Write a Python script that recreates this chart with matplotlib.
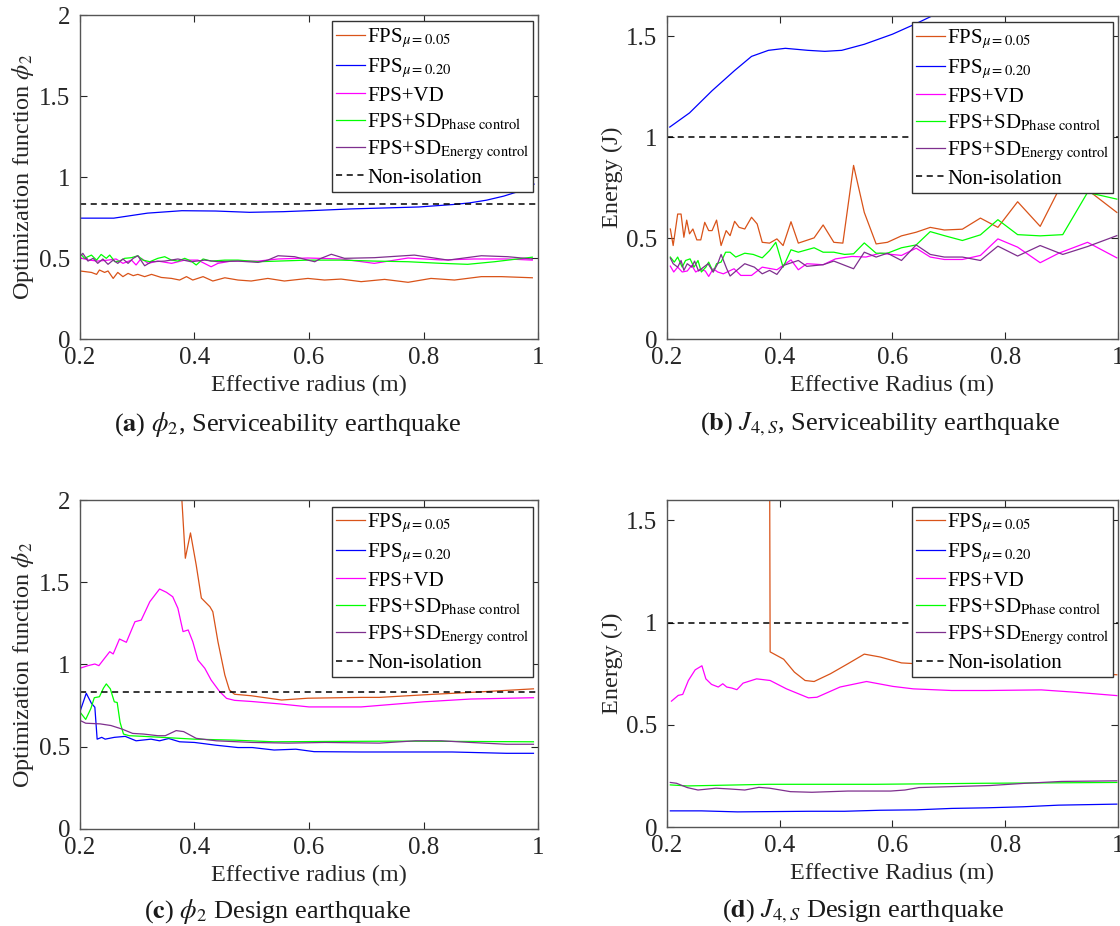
import matplotlib
matplotlib.use('Agg')
import matplotlib.pyplot as plt
from matplotlib.ticker import FuncFormatter

plt.rcParams['font.family'] = ['Liberation Serif', 'DejaVu Serif']
plt.rcParams['mathtext.fontset'] = 'stix'

# ---- (a) phi_2, serviceability earthquake ----
a_r_fps005 = [0.200, 0.220, 0.229, 0.234, 0.243, 0.249, 0.258, 0.266, 0.275, 0.284, 0.293, 0.301,
              0.313, 0.325, 0.342, 0.360, 0.374, 0.386, 0.397, 0.415, 0.432, 0.453, 0.476, 0.499,
              0.528, 0.557, 0.598, 0.627, 0.656, 0.691, 0.732, 0.773, 0.813, 0.854, 0.901, 0.936, 0.990]
a_fps005 = [0.420, 0.411, 0.399, 0.426, 0.411, 0.420, 0.374, 0.411, 0.385, 0.405, 0.391, 0.399,
            0.385, 0.399, 0.380, 0.374, 0.364, 0.385, 0.364, 0.385, 0.358, 0.378, 0.364, 0.358,
            0.374, 0.358, 0.374, 0.364, 0.370, 0.354, 0.368, 0.350, 0.374, 0.364, 0.385, 0.385, 0.378]
a_r_fps020 = [0.200, 0.259, 0.318, 0.378, 0.437, 0.496, 0.555, 0.614, 0.673, 0.733, 0.792,
              0.851, 0.880, 0.910, 0.940, 0.969, 0.993]
a_fps020 = [0.746, 0.746, 0.777, 0.792, 0.790, 0.782, 0.786, 0.794, 0.803, 0.809, 0.815,
            0.830, 0.840, 0.857, 0.882, 0.914, 0.956]
a_r_vd = [0.200, 0.214, 0.231, 0.249, 0.263, 0.275, 0.290, 0.298, 0.307, 0.319, 0.336, 0.360,
          0.383, 0.406, 0.429, 0.441, 0.464, 0.511, 0.546, 0.598, 0.656, 0.714, 0.773, 0.831,
          0.889, 0.947, 0.990]
a_vd = [0.502, 0.488, 0.481, 0.487, 0.494, 0.467, 0.487, 0.457, 0.498, 0.467, 0.481, 0.467,
        0.487, 0.487, 0.446, 0.467, 0.481, 0.481, 0.494, 0.500, 0.494, 0.467, 0.500, 0.488,
        0.494, 0.494, 0.487]
a_r_phase = [0.200, 0.208, 0.220, 0.229, 0.237, 0.246, 0.252, 0.261, 0.269, 0.278, 0.290, 0.301,
             0.310, 0.322, 0.336, 0.348, 0.360, 0.371, 0.383, 0.394, 0.403, 0.415, 0.429, 0.453,
             0.476, 0.511, 0.546, 0.598, 0.656, 0.714, 0.773, 0.831, 0.877, 0.924, 0.990]
a_phase = [0.530, 0.498, 0.518, 0.487, 0.522, 0.498, 0.518, 0.477, 0.481, 0.498, 0.502, 0.514,
           0.487, 0.477, 0.498, 0.508, 0.487, 0.481, 0.498, 0.481, 0.457, 0.494, 0.481, 0.487,
           0.487, 0.477, 0.481, 0.487, 0.487, 0.481, 0.477, 0.467, 0.461, 0.477, 0.505]
a_r_energy = [0.200, 0.205, 0.214, 0.223, 0.231, 0.240, 0.249, 0.258, 0.266, 0.275, 0.284, 0.293,
              0.301, 0.313, 0.325, 0.348, 0.371, 0.394, 0.418, 0.441, 0.476, 0.511, 0.528, 0.546,
              0.575, 0.598, 0.610, 0.621, 0.639, 0.662, 0.714, 0.784, 0.843, 0.901, 0.947, 0.990]
a_energy = [0.508, 0.529, 0.481, 0.498, 0.467, 0.494, 0.461, 0.487, 0.467, 0.494, 0.467, 0.498,
            0.514, 0.452, 0.477, 0.481, 0.494, 0.477, 0.487, 0.477, 0.481, 0.473, 0.487, 0.514,
            0.508, 0.487, 0.477, 0.498, 0.523, 0.498, 0.502, 0.518, 0.487, 0.514, 0.508, 0.494]
a_noniso = 0.833

# ---- (b) J_4,S, serviceability earthquake ----
b_r_fps005 = [0.206, 0.211, 0.219, 0.225, 0.230, 0.235, 0.240, 0.246, 0.253, 0.260, 0.267, 0.274,
              0.280, 0.288, 0.296, 0.305, 0.312, 0.320, 0.328, 0.338, 0.350, 0.360, 0.369, 0.382,
              0.395, 0.406, 0.420, 0.433, 0.461, 0.477, 0.496, 0.512, 0.531, 0.550, 0.571, 0.591,
              0.616, 0.642, 0.667, 0.692, 0.724, 0.756, 0.787, 0.822, 0.862, 0.892, 0.940, 0.952, 0.998]
b_fps005 = [0.545, 0.463, 0.619, 0.619, 0.504, 0.589, 0.521, 0.545, 0.491, 0.491, 0.578, 0.537,
            0.537, 0.589, 0.463, 0.537, 0.512, 0.583, 0.553, 0.545, 0.603, 0.570, 0.479, 0.475,
            0.496, 0.463, 0.581, 0.475, 0.501, 0.565, 0.479, 0.475, 0.860, 0.627, 0.471, 0.479,
            0.511, 0.529, 0.553, 0.540, 0.544, 0.599, 0.553, 0.680, 0.558, 0.723, 0.790, 0.726, 0.627]
b_r_fps020 = [0.205, 0.240, 0.280, 0.320, 0.350, 0.380, 0.410, 0.450, 0.480, 0.510, 0.550, 0.600,
              0.640, 0.670, 0.700, 0.750]
b_fps020 = [1.050, 1.120, 1.230, 1.330, 1.400, 1.430, 1.440, 1.430, 1.425, 1.430, 1.460, 1.510,
            1.560, 1.600, 1.630, 1.680]
b_r_vd = [0.206, 0.212, 0.219, 0.227, 0.236, 0.244, 0.251, 0.259, 0.268, 0.274, 0.282, 0.290,
          0.300, 0.319, 0.331, 0.350, 0.369, 0.395, 0.420, 0.433, 0.448, 0.477, 0.499, 0.528,
          0.553, 0.578, 0.616, 0.642, 0.667, 0.692, 0.724, 0.756, 0.787, 0.822, 0.862, 0.895,
          0.946, 0.998]
b_vd = [0.361, 0.332, 0.356, 0.332, 0.337, 0.365, 0.332, 0.345, 0.337, 0.310, 0.348, 0.332,
        0.323, 0.348, 0.315, 0.315, 0.356, 0.343, 0.392, 0.343, 0.373, 0.368, 0.397, 0.409,
        0.406, 0.425, 0.414, 0.450, 0.406, 0.394, 0.394, 0.414, 0.496, 0.455, 0.378, 0.425,
        0.479, 0.402]
b_r_phase = [0.206, 0.213, 0.219, 0.227, 0.233, 0.241, 0.248, 0.255, 0.261, 0.269, 0.274, 0.282,
             0.288, 0.296, 0.304, 0.312, 0.322, 0.338, 0.353, 0.369, 0.382, 0.393, 0.406, 0.420,
             0.433, 0.461, 0.477, 0.496, 0.515, 0.531, 0.550, 0.571, 0.591, 0.616, 0.642, 0.667,
             0.692, 0.724, 0.756, 0.787, 0.822, 0.862, 0.902, 0.946, 0.998]
b_phase = [0.406, 0.381, 0.406, 0.356, 0.389, 0.397, 0.356, 0.389, 0.332, 0.356, 0.381, 0.332,
           0.373, 0.381, 0.430, 0.430, 0.406, 0.425, 0.419, 0.402, 0.438, 0.479, 0.356, 0.442,
           0.430, 0.452, 0.430, 0.430, 0.419, 0.422, 0.476, 0.425, 0.425, 0.452, 0.466, 0.532,
           0.512, 0.488, 0.516, 0.591, 0.517, 0.511, 0.517, 0.726, 0.693]
b_r_energy = [0.206, 0.211, 0.219, 0.225, 0.230, 0.236, 0.244, 0.249, 0.256, 0.265, 0.273, 0.282,
              0.290, 0.296, 0.306, 0.312, 0.325, 0.338, 0.355, 0.369, 0.382, 0.395, 0.407, 0.433,
              0.448, 0.477, 0.496, 0.531, 0.550, 0.571, 0.591, 0.616, 0.642, 0.667, 0.692, 0.724,
              0.756, 0.787, 0.822, 0.862, 0.902, 0.946, 0.998]
b_energy = [0.401, 0.373, 0.356, 0.389, 0.340, 0.373, 0.356, 0.386, 0.337, 0.356, 0.373, 0.332,
            0.373, 0.419, 0.348, 0.312, 0.343, 0.373, 0.356, 0.323, 0.340, 0.320, 0.365, 0.389,
            0.360, 0.368, 0.386, 0.348, 0.430, 0.406, 0.425, 0.389, 0.466, 0.419, 0.406, 0.406,
            0.389, 0.460, 0.411, 0.463, 0.419, 0.458, 0.512]
b_noniso = 1.0

# ---- (c) phi_2, design earthquake ----
c_r_fps005 = [0.376, 0.378, 0.384, 0.393, 0.403, 0.412, 0.427, 0.432, 0.441, 0.453, 0.461, 0.470,
              0.499, 0.552, 0.598, 0.691, 0.723, 0.818, 0.881, 0.992]
c_fps005 = [2.300, 2.000, 1.646, 1.800, 1.605, 1.404, 1.351, 1.321, 1.138, 0.936, 0.845, 0.819,
            0.810, 0.784, 0.795, 0.800, 0.800, 0.819, 0.830, 0.852]
c_r_fps020 = [0.200, 0.211, 0.220, 0.226, 0.230, 0.238, 0.244, 0.260, 0.279, 0.298, 0.324, 0.339,
              0.355, 0.374, 0.400, 0.438, 0.476, 0.501, 0.539, 0.577, 0.609, 0.691, 0.755, 0.850,
              0.945, 0.992]
c_fps020 = [0.713, 0.825, 0.764, 0.740, 0.546, 0.557, 0.546, 0.557, 0.563, 0.536, 0.546, 0.536,
            0.550, 0.530, 0.526, 0.509, 0.495, 0.495, 0.480, 0.485, 0.470, 0.468, 0.468, 0.468,
            0.460, 0.460]
c_r_vd = [0.200, 0.214, 0.226, 0.233, 0.243, 0.252, 0.258, 0.269, 0.281, 0.296, 0.307, 0.322,
          0.339, 0.351, 0.362, 0.371, 0.380, 0.389, 0.397, 0.406, 0.418, 0.429, 0.444, 0.456,
          0.470, 0.500, 0.550, 0.600, 0.691, 0.800, 0.882, 0.992]
c_vd = [0.977, 0.993, 1.003, 0.993, 1.038, 1.078, 1.064, 1.155, 1.135, 1.260, 1.270, 1.382,
        1.459, 1.439, 1.412, 1.342, 1.200, 1.210, 1.139, 1.027, 0.977, 0.906, 0.835, 0.794,
        0.782, 0.775, 0.760, 0.742, 0.742, 0.773, 0.790, 0.798]
c_r_phase = [0.200, 0.210, 0.219, 0.225, 0.234, 0.241, 0.246, 0.253, 0.260, 0.265, 0.270, 0.276,
             0.286, 0.311, 0.343, 0.400, 0.469, 0.539, 0.628, 0.755, 0.882, 0.992]
c_phase = [0.711, 0.666, 0.732, 0.798, 0.804, 0.856, 0.882, 0.852, 0.773, 0.769, 0.649, 0.577,
           0.567, 0.563, 0.557, 0.546, 0.540, 0.530, 0.532, 0.534, 0.532, 0.530]
c_r_energy = [0.200, 0.210, 0.235, 0.254, 0.273, 0.292, 0.311, 0.336, 0.349, 0.368, 0.381, 0.403,
              0.438, 0.501, 0.564, 0.628, 0.723, 0.786, 0.831, 0.882, 0.945, 0.992]
c_energy = [0.660, 0.643, 0.639, 0.629, 0.608, 0.581, 0.577, 0.567, 0.567, 0.598, 0.592, 0.551,
            0.536, 0.526, 0.522, 0.526, 0.522, 0.536, 0.536, 0.526, 0.515, 0.515]
c_noniso = 0.831

# ---- (d) J_4,S, design earthquake ----
d_r_fps005 = [0.382, 0.383, 0.407, 0.426, 0.445, 0.461, 0.490, 0.521, 0.550, 0.578, 0.616, 0.642,
              0.750, 0.850, 0.998]
d_fps005 = [1.900, 0.857, 0.821, 0.758, 0.717, 0.712, 0.750, 0.799, 0.846, 0.832, 0.803, 0.799,
            0.790, 0.770, 0.745]
d_r_fps020 = [0.206, 0.261, 0.325, 0.452, 0.515, 0.578, 0.642, 0.705, 0.768, 0.832, 0.895, 0.998]
d_fps020 = [0.079, 0.079, 0.074, 0.077, 0.077, 0.082, 0.084, 0.091, 0.094, 0.099, 0.107, 0.112]
d_r_vd = [0.208, 0.220, 0.228, 0.238, 0.250, 0.262, 0.269, 0.279, 0.291, 0.299, 0.306, 0.315,
          0.324, 0.335, 0.359, 0.383, 0.412, 0.451, 0.466, 0.507, 0.554, 0.601, 0.637, 0.705,
          0.768, 0.864, 0.927, 0.998]
d_vd = [0.616, 0.644, 0.649, 0.717, 0.769, 0.789, 0.725, 0.698, 0.685, 0.701, 0.685, 0.680,
        0.672, 0.704, 0.725, 0.717, 0.676, 0.632, 0.635, 0.685, 0.712, 0.688, 0.676, 0.668,
        0.668, 0.671, 0.659, 0.643]
d_r_phase = [0.206, 0.236, 0.380, 0.570, 0.760, 0.998]
d_phase = [0.206, 0.201, 0.209, 0.209, 0.214, 0.218]
d_r_energy = [0.206, 0.217, 0.236, 0.255, 0.287, 0.312, 0.338, 0.363, 0.382, 0.419, 0.457, 0.521,
              0.597, 0.622, 0.647, 0.710, 0.773, 0.836, 0.900, 0.998]
d_energy = [0.218, 0.214, 0.193, 0.181, 0.190, 0.186, 0.181, 0.194, 0.190, 0.173, 0.170, 0.176,
            0.176, 0.181, 0.193, 0.198, 0.203, 0.214, 0.223, 0.226]
d_noniso = 1.0

x_ticks = [0.2, 0.4, 0.6, 0.8, 1.0]
series_colors = ['#D95319', '#0000FF', '#FF00FF', '#00FF00', '#7E2F8E']
series_labels = [r'FPS$_{\mu = 0.05}$', r'FPS$_{\mu = 0.20}$', 'FPS+VD',
                 r'FPS+SD$_{\mathrm{Phase\ control}}$', r'FPS+SD$_{\mathrm{Energy\ control}}$']


def draw_panel(ax, series, noniso, ymax, yticks, ylabel, xlabel):
    for (r, v), c, lab in zip(series, series_colors, series_labels):
        ax.plot(r, v, color=c, lw=0.9, label=lab)
    ax.axhline(noniso, color='k', ls='--', lw=1.1, dashes=(4, 3), label='Non-isolation')
    ax.set_xlim(0.2, 1.0)
    ax.set_ylim(0, ymax)
    ax.set_xticks(x_ticks)
    ax.set_yticks(yticks)
    ax.xaxis.set_major_formatter(FuncFormatter(lambda v, p: '%g' % v))
    ax.yaxis.set_major_formatter(FuncFormatter(lambda v, p: '%g' % v))
    ax.tick_params(direction='in', top=True, right=True, length=5, width=0.8,
                   labelsize=18, colors='#262626')
    ax.tick_params(axis='x', pad=6)
    ax.tick_params(axis='y', pad=7)
    for s in ax.spines.values():
        s.set_color('#555555')
        s.set_linewidth(1.0)
    ax.set_xlabel(xlabel, fontsize=17.5, color='#262626', labelpad=4)
    ax.set_ylabel(ylabel, fontsize=17.5, color='#262626', labelpad=2)
    leg = ax.legend(loc='upper right', bbox_to_anchor=(0.99, 0.98), borderaxespad=0,
                    fontsize=15, handlelength=1.4, handletextpad=0.1, labelspacing=0.3,
                    borderpad=0.2, fancybox=False, framealpha=1, edgecolor='#333333')
    leg.get_frame().set_linewidth(1.0)


fig = plt.figure(figsize=(11.2, 9.26), dpi=100)
ax_a = fig.add_axes([0.0714, 0.6339, 0.4090, 0.3499])
ax_b = fig.add_axes([0.5955, 0.6339, 0.4027, 0.3488])
ax_c = fig.add_axes([0.0714, 0.1048, 0.4090, 0.3552])
ax_d = fig.add_axes([0.5955, 0.1069, 0.4027, 0.3531])

draw_panel(ax_a, [(a_r_fps005, a_fps005), (a_r_fps020, a_fps020), (a_r_vd, a_vd),
                  (a_r_phase, a_phase), (a_r_energy, a_energy)],
           a_noniso, 2, [0, 0.5, 1, 1.5, 2], r'Optimization function $\phi_2$', 'Effective radius (m)')
draw_panel(ax_b, [(b_r_fps005, b_fps005), (b_r_fps020, b_fps020), (b_r_vd, b_vd),
                  (b_r_phase, b_phase), (b_r_energy, b_energy)],
           b_noniso, 1.6, [0, 0.5, 1, 1.5], 'Energy (J)', 'Effective Radius (m)')
draw_panel(ax_c, [(c_r_fps005, c_fps005), (c_r_fps020, c_fps020), (c_r_vd, c_vd),
                  (c_r_phase, c_phase), (c_r_energy, c_energy)],
           c_noniso, 2, [0, 0.5, 1, 1.5, 2], r'Optimization function $\phi_2$', 'Effective radius (m)')
draw_panel(ax_d, [(d_r_fps005, d_fps005), (d_r_fps020, d_fps020), (d_r_vd, d_vd),
                  (d_r_phase, d_phase), (d_r_energy, d_energy)],
           d_noniso, 1.6, [0, 0.5, 1, 1.5], 'Energy (J)', 'Effective Radius (m)')

cap = dict(ha='center', va='center', fontsize=19, color='#1a1a1a')
fig.text(0.2571, 0.542, r'($\mathbf{a}$) $\phi_2$, Serviceability earthquake', **cap)
fig.text(0.7857, 0.542, r'($\mathbf{b}$) $J_{4,S}$, Serviceability earthquake', **cap)
fig.text(0.2482, 0.016, r'($\mathbf{c}$) $\phi_2$ Design earthquake', **cap)
fig.text(0.7705, 0.016, r'($\mathbf{d}$) $J_{4,S}$ Design earthquake', **cap)

fig.savefig('out.png', dpi=100)
